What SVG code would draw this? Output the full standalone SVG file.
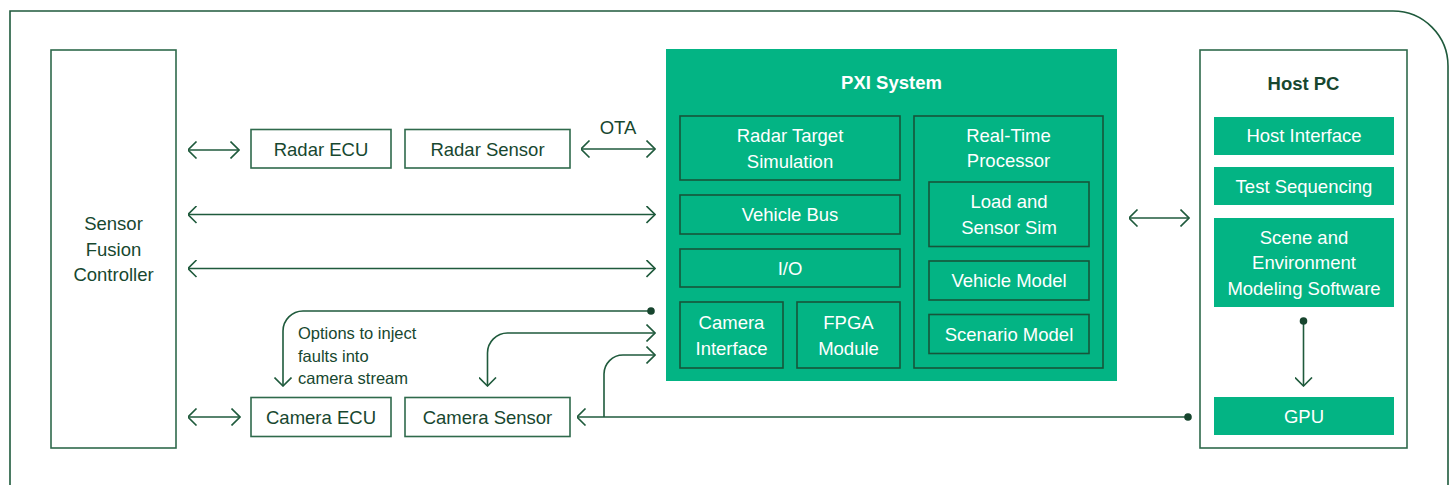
<svg xmlns="http://www.w3.org/2000/svg" width="1454" height="485" viewBox="0 0 1454 485">
<style>
.frame{fill:none;stroke:#1f5a3c;stroke-width:1.6}
.box{fill:#fff;stroke:#2f6a4c;stroke-width:1.6}
.pxi{fill:#03b484}
.ibox{fill:none;stroke:#17553a;stroke-width:1.6}
.gbox{fill:#03b484}
.t{font-family:"Liberation Sans",Arial,sans-serif;font-size:18.5px;text-anchor:middle;fill:#17472f}
.w{fill:#ffffff}
.b{font-weight:bold}
.s{font-size:16.5px;text-anchor:start}
.c{fill:none;stroke:#1f5a3c;stroke-width:1.6}
.dot{fill:#17452e}
</style>
<defs>
<marker id="ah" viewBox="0 0 10 18" refX="9.5" refY="9" markerWidth="10" markerHeight="18" markerUnits="userSpaceOnUse" orient="auto-start-reverse">
<path d="M1,0.5 L9.5,9 L1,17.5" fill="none" stroke="#1f5a3c" stroke-width="1.6"/>
</marker>
</defs>
<path class="frame" d="M10,495 V11 H1393 A55,55 0 0 1 1448,66 V495"/>

<g id="sensor-fusion">
<rect class="box" x="51" y="50" width="125" height="398"/>
<text class="t" x="113.5" y="230">Sensor</text>
<text class="t" x="113.5" y="255.5">Fusion</text>
<text class="t" x="113.5" y="281">Controller</text>
</g>
<g id="radar-ecu">
<rect class="box" x="251" y="129.5" width="140" height="38.5"/>
<text class="t" x="321" y="156">Radar ECU</text>
</g>
<g id="radar-sensor">
<rect class="box" x="405" y="129.5" width="165" height="38.5"/>
<text class="t" x="487.5" y="156">Radar Sensor</text>
</g>
<g id="camera-ecu">
<rect class="box" x="251" y="397.5" width="140" height="39"/>
<text class="t" x="321" y="424">Camera ECU</text>
</g>
<g id="camera-sensor">
<rect class="box" x="405" y="397.5" width="165" height="39"/>
<text class="t" x="487.5" y="424">Camera Sensor</text>
</g>

<g id="pxi-system">
<rect class="pxi" x="666" y="49" width="451" height="332"/>
<text class="t w b" x="891.5" y="89">PXI System</text>
<g id="radar-target-sim">
<rect class="ibox" x="680" y="116" width="220" height="64"/>
<text class="t w" x="790" y="141.5">Radar Target</text>
<text class="t w" x="790" y="167.5">Simulation</text>
</g>
<g id="vehicle-bus">
<rect class="ibox" x="680" y="195" width="220" height="39"/>
<text class="t w" x="790" y="221">Vehicle Bus</text>
</g>
<g id="io">
<rect class="ibox" x="680" y="249" width="220" height="38"/>
<text class="t w" x="790" y="275">I/O</text>
</g>
<g id="camera-interface">
<rect class="ibox" x="680" y="302" width="103" height="66"/>
<text class="t w" x="731.5" y="328.5">Camera</text>
<text class="t w" x="731.5" y="354.5">Interface</text>
</g>
<g id="fpga-module">
<rect class="ibox" x="797" y="302" width="103" height="66"/>
<text class="t w" x="848.5" y="328.5">FPGA</text>
<text class="t w" x="848.5" y="354.5">Module</text>
</g>
<g id="real-time-processor">
<rect class="ibox" x="914" y="116" width="189" height="252"/>
<text class="t w" x="1008.5" y="141.5">Real-Time</text>
<text class="t w" x="1008.5" y="167">Processor</text>
</g>
<g id="load-sensor-sim">
<rect class="ibox" x="929" y="182" width="160" height="64.5"/>
<text class="t w" x="1009" y="207.5">Load and</text>
<text class="t w" x="1009" y="233.5">Sensor Sim</text>
</g>
<g id="vehicle-model">
<rect class="ibox" x="929" y="261" width="160" height="39"/>
<text class="t w" x="1009" y="286.5">Vehicle Model</text>
</g>
<g id="scenario-model">
<rect class="ibox" x="929" y="314.5" width="160" height="39"/>
<text class="t w" x="1009" y="340.5">Scenario Model</text>
</g>
</g>

<g id="host-pc">
<rect class="box" x="1200" y="50" width="207" height="398"/>
<text class="t b" x="1303.5" y="90">Host PC</text>
<g id="host-interface">
<rect class="gbox" x="1214" y="117" width="180" height="38"/>
<text class="t w" x="1304" y="142">Host Interface</text>
</g>
<g id="test-sequencing">
<rect class="gbox" x="1214" y="167" width="180" height="38"/>
<text class="t w" x="1304" y="192.5">Test Sequencing</text>
</g>
<g id="scene-env">
<rect class="gbox" x="1214" y="218" width="180" height="89"/>
<text class="t w" x="1304" y="243.5">Scene and</text>
<text class="t w" x="1304" y="268.5">Environment</text>
<text class="t w" x="1304" y="294.5">Modeling Software</text>
</g>
<g id="gpu">
<rect class="gbox" x="1214" y="397" width="180" height="38"/>
<text class="t w" x="1304" y="423">GPU</text>
</g>
</g>

<g id="connectors">
<path class="c" d="M188,150 H239" marker-start="url(#ah)" marker-end="url(#ah)"/>
<path class="c" d="M581,149 H655" marker-start="url(#ah)" marker-end="url(#ah)"/>
<text class="t" x="618" y="134">OTA</text>
<path class="c" d="M188,214.5 H655" marker-start="url(#ah)" marker-end="url(#ah)"/>
<path class="c" d="M188,268.5 H655" marker-start="url(#ah)" marker-end="url(#ah)"/>
<path class="c" d="M651,311 H303 A20,20 0 0 0 283,331 V386" marker-end="url(#ah)"/>
<circle class="dot" cx="651" cy="311" r="3.8"/>
<text class="t s" x="298" y="339">Options to inject</text>
<text class="t s" x="298" y="361.5">faults into</text>
<text class="t s" x="298" y="383.5">camera stream</text>
<path class="c" d="M487.5,386 V353 A20,20 0 0 1 507.5,333 H655" marker-start="url(#ah)" marker-end="url(#ah)"/>
<path class="c" d="M1188,417 H577" marker-end="url(#ah)"/>
<circle class="dot" cx="1188" cy="417" r="3.8"/>
<path class="c" d="M604,417 V374 A19,19 0 0 1 623,355 H655" marker-end="url(#ah)"/>
<path class="c" d="M188,417 H240" marker-start="url(#ah)" marker-end="url(#ah)"/>
<path class="c" d="M1129,218 H1189" marker-start="url(#ah)" marker-end="url(#ah)"/>
<path class="c" d="M1303.5,321 V386" marker-end="url(#ah)"/>
<circle class="dot" cx="1303.5" cy="321" r="3.8"/>
</g>
</svg>
